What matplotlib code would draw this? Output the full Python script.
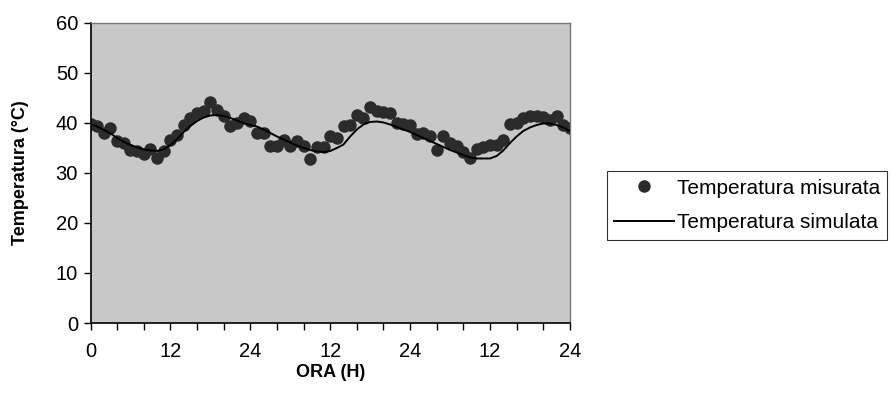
import numpy as np
import matplotlib
matplotlib.use("Agg")
import matplotlib.pyplot as plt

plt.rcParams["font.family"] = ["Liberation Sans", "DejaVu Sans"]

# hours since start (3 days)
ore = list(range(0, 73))

temp_misurata = [
    39.7, 39.3, 37.9, 38.9, 36.3, 35.9, 34.6, 34.3, 33.8, 34.7,
    32.9, 34.3, 36.6, 37.6, 39.6, 40.9, 41.9, 42.3, 44.1, 42.6,
    41.4, 39.3, 39.9, 40.9, 40.3, 37.9, 37.9, 35.4, 35.3, 36.6,
    35.4, 36.3, 35.3, 32.7, 35.1, 35.1, 37.4, 36.9, 39.3, 39.6,
    41.6, 40.9, 43.1, 42.3, 42.1, 41.9, 39.9, 39.8, 39.6, 37.8,
    37.9, 37.3, 34.6, 37.4, 35.9, 35.4, 34.1, 32.9, 34.7, 35.1,
    35.6, 35.6, 36.6, 39.8, 39.9, 40.9, 41.3, 41.3, 41.1, 40.6,
    41.3, 39.6, 38.9,
]

temp_simulata = [
    39.8, 39.3, 38.6, 37.9, 37.0, 36.2, 35.6, 35.1, 34.7, 34.5,
    34.4, 34.7, 35.6, 36.8, 38.2, 39.4, 40.4, 41.1, 41.5, 41.6,
    41.4, 41.0, 40.5, 40.0, 39.6, 39.3, 38.7, 38.0, 37.3, 36.7,
    36.1, 35.5, 35.0, 34.6, 34.3, 34.2, 34.4, 35.0, 35.7, 37.3,
    38.7, 39.7, 40.2, 40.3, 40.1, 39.7, 39.2, 38.7, 38.2, 37.6,
    37.0, 36.4, 35.8, 35.2, 34.6, 34.1, 33.6, 33.1, 32.9, 32.9,
    32.9, 33.4, 34.5, 36.0, 37.3, 38.4, 39.1, 39.6, 39.9, 39.9,
    39.6, 39.1, 38.4,
]

xtick_pos = [0, 12, 24, 36, 48, 60, 72]
xtick_lab = ["0", "12", "24", "12", "24", "12", "24"]

fig = plt.figure(figsize=(8.91, 4.03), dpi=100)
ax = fig.add_axes([0.1016, 0.1985, 0.538, 0.7445])
ax.set_facecolor("#c8c8c8")

ax.plot(ore, temp_misurata, "o", color="#2b2b2b", markersize=9,
        markeredgewidth=0, label="Temperatura misurata", zorder=2)
ax.plot(ore, temp_simulata, "-", color="black", linewidth=1.4,
        label="Temperatura simulata", zorder=3)

ax.set_xlim(0, 72)
ax.set_ylim(0, 60)
ax.set_yticks(range(0, 61, 10))
ax.set_xticks(xtick_pos)
ax.set_xticklabels(xtick_lab)
ax.set_xticks(range(0, 73, 4), minor=True)
ax.tick_params(axis="both", which="major", direction="out", length=5,
               width=1, labelsize=14.5)
ax.tick_params(axis="y", which="major", pad=4)
ax.tick_params(axis="x", which="major", pad=9)
ax.tick_params(axis="x", which="minor", direction="out", length=5, width=1)

for s in ["top", "right"]:
    ax.spines[s].set_color("#777777")
    ax.spines[s].set_linewidth(1)
for s in ["left", "bottom"]:
    ax.spines[s].set_color("black")
    ax.spines[s].set_linewidth(1.2)

ax.set_xlabel("ORA (H)", fontsize=13, fontweight="bold", labelpad=2)
ax.set_ylabel("Temperatura (°C)", fontsize=13, fontweight="bold", labelpad=19)

leg = fig.legend(loc="center left", bbox_to_anchor=(0.681, 0.49),
                 fontsize=15, frameon=True, fancybox=False,
                 handlelength=2.9, handletextpad=0.1, borderpad=0.35,
                 labelspacing=0.75, borderaxespad=0)
leg.get_frame().set_edgecolor("black")
leg.get_frame().set_linewidth(0.8)

fig.savefig("out.png", dpi=100)
